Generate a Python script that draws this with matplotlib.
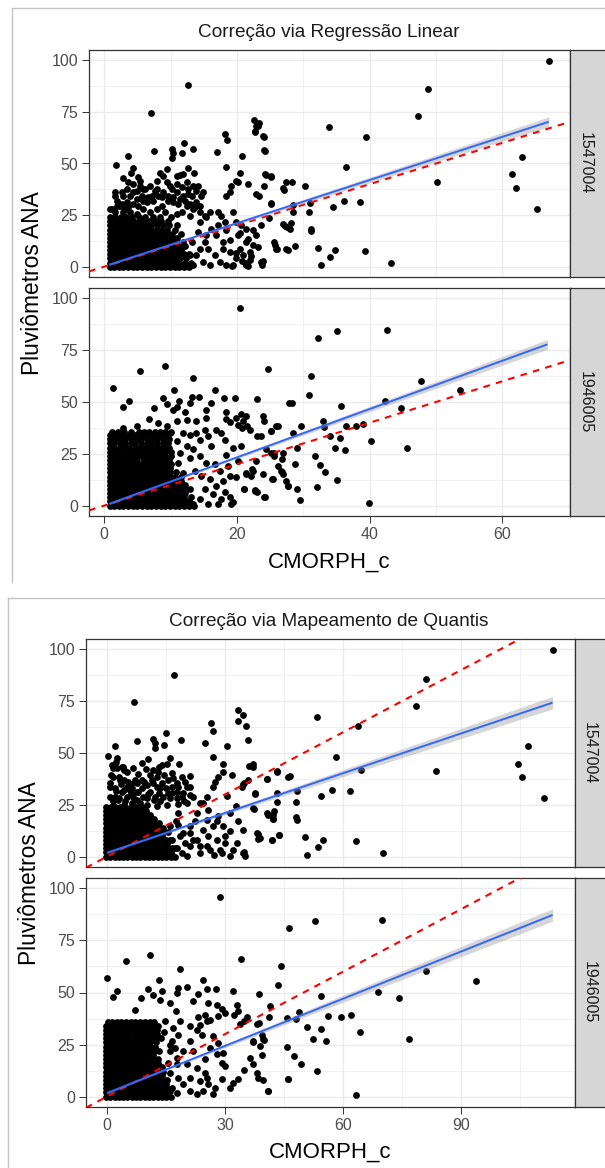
import matplotlib
matplotlib.use("Agg")
import matplotlib.pyplot as plt
from matplotlib.lines import Line2D
import numpy as np

plt.rcParams['font.family'] = ['Liberation Sans', 'DejaVu Sans']

# ---------------------------------------------------------------- data
STATIONS = ["1547004", "1946005"]
TITLE_LR = "Correção via Regressão Linear"
TITLE_QM = "Correção via Mapeamento de Quantis"
XLABEL = "CMORPH_c"
YLABEL = "Pluviômetros ANA"

Y_TICKS = [0, 25, 50, 75, 100]
LR_X_TICKS = [0, 20, 40, 60]
QM_X_TICKS = [0, 30, 60, 90]

# 1:1 reference line
ABLINE_INTERCEPT = 0.0
ABLINE_SLOPE = 1.0

# --- Regressão Linear, station 1547004 -------------------------------
lr_1547004_core_y = [0, 2, 4, 6, 8, 10, 12, 14, 16, 18, 20, 22, 24]
lr_1547004_core_x = [
    [0.8, 1.5, 2.2, 2.9, 3.6, 4.3, 5.0, 5.7, 6.4, 7.1, 7.8, 8.5, 9.2, 9.9, 10.6, 11.3, 12.0, 12.7],
    [0.8, 1.5, 2.2, 2.9, 3.6, 4.3, 5.0, 5.7, 6.4, 7.1, 7.8, 8.5, 9.2, 9.9, 10.6, 11.3, 12.1, 13.0],
    [0.8, 1.5, 2.2, 2.9, 3.6, 4.3, 5.0, 5.7, 6.4, 7.1, 7.8, 8.5, 9.2, 9.9, 10.6, 11.4, 12.3],
    [0.8, 1.5, 2.2, 2.9, 3.6, 4.3, 5.0, 5.7, 6.4, 7.1, 7.8, 8.5, 9.2, 9.9, 10.6, 11.3, 12.0, 12.8],
    [0.8, 1.5, 2.2, 2.9, 3.6, 4.3, 5.0, 5.7, 6.4, 7.1, 7.8, 8.5, 9.2, 9.9, 10.7, 11.6],
    [0.8, 1.5, 2.2, 2.9, 3.6, 4.3, 5.0, 5.7, 6.4, 7.1, 7.8, 8.5, 9.2, 9.9, 10.6, 11.3, 12.2],
    [0.8, 1.5, 2.2, 2.9, 3.6, 4.3, 5.0, 5.7, 6.4, 7.1, 7.8, 8.5, 9.2, 9.9, 10.8, 11.8],
    [0.8, 1.5, 2.2, 2.9, 3.6, 4.3, 5.0, 5.7, 6.4, 7.1, 7.8, 8.5, 9.2, 10.0, 11.0],
    [0.8, 1.5, 2.2, 2.9, 3.6, 4.3, 5.0, 5.7, 6.4, 7.1, 7.8, 8.5, 9.3, 10.2, 11.5],
    [0.8, 1.5, 2.2, 2.9, 3.6, 4.3, 5.0, 5.7, 6.4, 7.1, 7.8, 8.6, 9.5, 10.6],
    [0.8, 1.5, 2.2, 2.9, 3.6, 4.3, 5.0, 5.7, 6.4, 7.1, 7.9, 8.8, 9.8, 11.0],
    [0.8, 1.5, 2.2, 2.9, 3.6, 4.4, 5.2, 6.0, 6.8, 7.6, 8.6, 9.6],
    [0.8, 1.6, 2.5, 3.3, 4.2, 5.2, 6.2, 7.3, 8.4, 10.0],
]
lr_1547004_pts = [
    (12.65, 88), (7.05, 74.4), (22.5, 70.9), (23.2, 68.3), (22.65, 65.6), (23.9, 63.2),
    (18.15, 64.5), (18.5, 61.3), (12, 60), (10.15, 57.1), (10.35, 55.2), (10.25, 52.8),
    (11.75, 55.2), (13.4, 56.8), (7.55, 56), (3.55, 53.6), (17.05, 55.4), (20.8, 53.4),
    (24.1, 56.5), (18.4, 48.5), (1.7, 49.1), (4.4, 48), (2.9, 43.2), (4, 45.6), (5.15, 43.5),
    (8.4, 45.6), (9.4, 47.2), (12.55, 48), (10.9, 44), (11.4, 44.6), (11.9, 44.8), (13.55, 45.3),
    (20.4, 45.3), (24.3, 44.8), (25.15, 44), (20.15, 40.8), (21.65, 40), (19.15, 39.2), (18.9, 36),
    (18.4, 34.4), (19.9, 41.6), (22.9, 35.2), (23.3, 34.4), (24.15, 38.9), (26.9, 37.9),
    (27.4, 41.1), (25.15, 30.9), (25.65, 12), (25.9, 8.8), (27.4, 8.8), (27, 20.8), (27.5, 19.2),
    (24.9, 23.5), (23.65, 2.4), (21.15, 1.6), (3.65, 40.8), (4.4, 40), (5.4, 41.6), (5.9, 37.6),
    (7.65, 36.8), (12.4, 41.1),
    (14.4, 21.6), (15.4, 24), (15.9, 26.4), (17.15, 26.7), (17.65, 24.8), (18.15, 21.6),
    (19.4, 26.4), (19.9, 21.6), (20.65, 20), (21.4, 18.4), (20.15, 15.2), (18.9, 12.8), (17.9, 12),
    (16.9, 15.2), (15.4, 15.2), (14.4, 8.8), (15.65, 8.8), (16.65, 5.6), (17.9, 8.8), (18.9, 7.2),
    (19.9, 4), (20.9, 5.6), (21.9, 7.2), (22.4, 10.4), (22.9, 15.2), (21.4, 12), (19.4, 0.8),
    (21.4, 0.8), (14.9, 2.4), (13.4, 0.8), (13.9, 5.6), (15.15, 12), (16.15, 18.4), (17.15, 20),
    (18.4, 17.6), (14.15, 16.8), (13.15, 12), (12.9, 5.6), (15.9, 0.8), (17.4, 2.4), (18.4, 0.8),
    (20.4, 8.8), (21.9, 3.2),
    (1.65, 36), (2.4, 29.6), (3.4, 31.2), (3.9, 34.4), (4.4, 36), (5.4, 39.2), (6.15, 37.6),
    (4.9, 32.8), (6.4, 31.2), (7.15, 34.4), (7.9, 37.6), (9.4, 40.8), (10.15, 37.6), (10.9, 36),
    (11.9, 34.4), (12.65, 35.2), (13.4, 39.2), (14.15, 39.2), (13.15, 34.4), (13.9, 31.2),
    (12.4, 29.6), (11.15, 30.4), (10.4, 31.2), (8.65, 29.6), (7.9, 28), (5.9, 28), (3.15, 28),
    (1.65, 26.4), (0.9, 28), (3.9, 26.4), (4.9, 25.6), (6.9, 26.4), (9.15, 26.4), (10.9, 25.6),
    (12.9, 24.8), (1.9, 32), (2.9, 34.4), (8.65, 33.6), (9.65, 32), (11.65, 26.4), (13.4, 28),
    (14.4, 29.6), (14.9, 36),
    (1.15, 28), (1.9, 29.6), (2.65, 30.4), (2.9, 26.4), (3.65, 28.8), (4.4, 30.4), (5.15, 29.6),
    (5.9, 32), (6.65, 33.6), (7.4, 32), (8.15, 34.4), (8.9, 36), (9.65, 34.4), (10.4, 33.6),
    (11.4, 32.8), (12.15, 32), (12.9, 30.4), (13.65, 28.8), (14.4, 26.4), (15.15, 24.8),
    (1.65, 34.4), (2.65, 36), (3.4, 37.6), (4.9, 36.8), (5.65, 34.4), (6.9, 39.2), (7.9, 41.6),
    (8.9, 44), (9.9, 39.2), (10.9, 40), (11.65, 38.4), (12.65, 37.6), (13.9, 36.8), (14.65, 34.4),
    (67, 99.7), (48.8, 86), (47.3, 72.8), (33.9, 67.6), (39.4, 63), (36.4, 48.2), (50.1, 41.2),
    (61.5, 44.8), (62.1, 38.3), (63, 53.3), (65.3, 28), (36.1, 32), (34.5, 29.1), (38.6, 31.5),
    (39.3, 7.4), (34.8, 8.2), (34.1, 4.7), (32.6, 0.6), (32.2, 9), (43.2, 1.8), (30.2, 39.1),
    (28.3, 41.2), (27.1, 37.2), (31, 31.1), (30.9, 26.4), (31.1, 18.2), (31.2, 17.1), (28.5, 30),
    (28.4, 26.6), (27.3, 19.8), (28, 18.2), (28.1, 21.4), (28.7, 10.1), (27.7, 7.9), (25.8, 10.6),
    (26, 8.5), (25.1, 30.4), (25.2, 43.6), (24.4, 44.4), (24.2, 56.2), (24.1, 63), (22.9, 68.1),
    (23.3, 69.7), (22.7, 65.4), (23.8, 1), (23.9, 2.6),
    (21.6, 0.4), (22.1, 5.3), (23.2, 9.3), (21.6, 13.3), (20.4, 16.3), (22.4, 17.9), (23.6, 20.3),
    (19.8, 6.6), (20.7, 2.6), (19.2, 0.4),
]
lr_1547004_fit = (0.2, 1.045)          # intercept, slope
lr_1547004_fit_x = (0.75, 67.0)
lr_1547004_band_x = [0.75, 5, 15, 30, 45, 60, 67.0]
lr_1547004_band_hw = [0.5, 0.35, 0.5, 1.0, 1.5, 2.1, 2.4]

# --- Regressão Linear, station 1946005 -------------------------------
lr_1946005_core_y = [0, 2, 4, 6, 8, 10, 12, 14, 16, 18, 20, 22, 24, 26, 28, 30, 32, 34, 35.5]
lr_1946005_core_x = [
    [0.8, 1.5, 2.2, 2.9, 3.6, 4.3, 5.0, 5.7, 6.4, 7.1, 7.8, 8.5, 9.2, 9.9, 10.6, 11.3, 12.0, 12.7, 13.5],
    [0.8, 1.5, 2.2, 2.9, 3.6, 4.3, 5.0, 5.7, 6.4, 7.1, 7.8, 8.5, 9.2, 9.9, 10.6, 11.3, 12.0, 12.8],
    [0.8, 1.5, 2.2, 2.9, 3.6, 4.3, 5.0, 5.7, 6.4, 7.1, 7.8, 8.5, 9.2, 9.9, 10.6, 11.3, 12.0, 13.0],
    [0.8, 1.5, 2.2, 2.9, 3.6, 4.3, 5.0, 5.7, 6.4, 7.1, 7.8, 8.5, 9.2, 9.9, 10.6, 11.3, 12.1],
    [0.8, 1.5, 2.2, 2.9, 3.6, 4.3, 5.0, 5.7, 6.4, 7.1, 7.8, 8.5, 9.2, 9.9, 10.6, 11.3, 12.0, 12.9],
    [0.8, 1.5, 2.2, 2.9, 3.6, 4.3, 5.0, 5.7, 6.4, 7.1, 7.8, 8.5, 9.2, 9.9, 10.6, 11.3, 12.2],
    [0.8, 1.5, 2.2, 2.9, 3.6, 4.3, 5.0, 5.7, 6.4, 7.1, 7.8, 8.5, 9.2, 9.9, 10.6, 11.5],
    [0.8, 1.5, 2.2, 2.9, 3.6, 4.3, 5.0, 5.7, 6.4, 7.1, 7.8, 8.5, 9.2, 9.9, 10.6, 11.6],
    [0.8, 1.5, 2.2, 2.9, 3.6, 4.3, 5.0, 5.7, 6.4, 7.1, 7.8, 8.5, 9.2, 9.9, 10.8],
    [0.8, 1.5, 2.2, 2.9, 3.6, 4.3, 5.0, 5.7, 6.4, 7.1, 7.8, 8.5, 9.2, 9.9],
    [0.8, 1.5, 2.2, 2.9, 3.6, 4.3, 5.0, 5.7, 6.4, 7.1, 7.8, 8.5, 9.2, 10.0],
    [0.8, 1.5, 2.2, 2.9, 3.6, 4.3, 5.0, 6.0, 6.8, 7.5, 8.2, 9.0, 9.8],
    [0.8, 1.5, 2.2, 2.9, 3.6, 4.3, 5.0, 5.7, 6.4, 7.1, 7.8, 8.5, 9.2, 10.0],
    [0.8, 1.5, 2.2, 2.9, 3.8, 4.5, 5.2, 6.2, 6.9, 7.6, 8.4, 9.2, 10.0],
    [0.8, 1.5, 2.2, 3.0, 3.7, 4.6, 5.3, 6.0, 6.8, 7.5, 8.2, 9.0, 9.8],
    [0.8, 1.5, 2.3, 3.2, 4.0, 4.7, 5.5, 6.4, 7.1, 7.9, 8.8, 9.6],
    [0.8, 1.6, 2.4, 3.1, 4.0, 4.8, 5.6, 6.5, 7.3, 8.0, 8.9, 9.8],
    [0.8, 1.4, 2.2, 3.0, 3.8, 4.6, 5.5, 6.2, 7.0, 7.8, 8.6, 9.5],
    [1.2, 2.0, 3.0, 4.0, 5.2, 6.0, 6.8, 7.6, 8.4, 9.2, 10.0],
]
lr_1946005_pts = [
    (20.4, 95.4), (9.15, 67.5), (5.4, 64.9), (24.65, 65.9), (13.4, 61.4), (1.25, 56.9),
    (10.55, 55.8), (16.7, 55.8), (3.75, 50.7), (2.8, 47.8), (8.8, 51.7), (9.5, 49), (11.3, 50.6),
    (11, 47.8), (10.4, 46.2), (13.15, 52.3), (12.9, 49.4), (14.25, 52.3), (7.55, 47.2),
    (15.4, 46.2), (16.15, 49.4), (18, 51.7), (19.7, 51.7), (23.05, 51.4), (6.7, 41.8),
    (12.15, 45), (18.4, 45.1), (18.4, 41.8), (18.9, 40.5), (20.65, 44.3), (21.3, 43.1),
    (19.9, 42.3), (20.15, 39.1), (20.9, 40.7), (21.5, 38.6), (20.8, 37.3), (23.9, 43.4),
    (24.15, 40.7), (22, 36.7), (23, 33.5), (23.65, 33.8), (25.15, 35.9), (25.9, 38.6),
    (27.9, 49.4), (25.15, 25.5), (25.65, 23.9), (26.15, 19.1), (26.65, 16.7), (26.9, 15.2),
    (25.3, 12.8), (22.9, 21.5), (22.3, 17.5), (21.4, 15.2), (22.65, 7.2), (24.15, 4), (21, 8),
    (19.4, 1.6), (19.15, 0.8), (18.15, 6.4), (18.3, 24.2), (27.65, 9.6),
    (11.9, 35.1), (12.9, 34.3), (13.9, 35.1), (14.4, 31.9), (15.15, 36.7), (15.65, 33.5),
    (16.15, 28.7), (16.9, 36.7), (17.65, 35.1), (18.15, 31.9), (12.4, 28.7), (13.4, 27.1),
    (11.4, 25.5), (12.9, 23.1), (14.4, 23.9), (15.4, 20.7), (16.65, 19.9), (17.4, 16.7),
    (18.65, 19.1), (18.9, 14.4), (17.9, 12), (16.9, 9.6), (15.9, 12.8), (14.65, 14.4),
    (13.65, 16.7), (15.15, 8), (16.4, 5.6), (17.65, 3.2), (18.9, 4), (14.4, 3.2), (13.4, 0.8),
    (15.65, 0.8), (17.15, 0.8), (19.9, 13.6), (20.15, 21.5), (19.4, 27.9), (20.65, 28.7),
    (21.4, 15.9), (22.15, 14.4), (23.9, 15.2), (11.15, 20.7), (11.9, 15.9), (10.9, 31.1),
    (9.9, 35.1), (8.15, 39.9), (9.4, 38.3), (10.9, 40.7), (12.4, 41.5), (13.9, 40.7),
    (15.4, 42.3), (4.9, 38.3), (2.9, 37.5), (1.65, 34.8),
    (32.2, 80.7), (35.1, 84.1), (42.6, 84.5), (31.2, 62.5), (47.7, 60.3), (53.6, 55.8),
    (30.9, 53.4), (28.3, 49.5), (42.3, 50.7), (35.7, 48.3), (44.7, 47.2), (45.6, 27.9),
    (40.2, 31.3), (39, 39.4), (37.9, 38.3), (36.4, 38.6), (33, 40.7), (33.1, 38), (34.1, 33.8),
    (35.5, 32.7), (34.8, 27.9), (36.3, 26.8), (31.8, 23.9), (32.5, 19.8), (33.2, 16),
    (35.1, 12.4), (32, 8.8), (39.9, 1.3), (29.5, 2.9), (29.1, 8), (28.7, 20), (29, 27.9),
    (29.7, 38.3), (28.4, 35.1), (26.2, 38.6), (25.2, 35.9), (24.3, 4), (25.5, 12.8), (26.8, 16),
    (27.4, 12), (27.7, 9.6), (26.8, 22.3), (26.9, 25.5), (25.6, 25.2), (24.4, 27.1),
    (22.4, 16.7), (22.7, 7.5), (23, 6.4), (21.1, 8),
]
lr_1946005_fit = (0.0, 1.165)
lr_1946005_fit_x = (0.75, 66.8)
lr_1946005_band_x = [0.75, 5, 15, 30, 45, 60, 66.8]
lr_1946005_band_hw = [0.5, 0.35, 0.5, 1.0, 1.5, 2.1, 2.4]

# --- Mapeamento de Quantis, station 1547004 --------------------------
qm_1547004_core_y = [0, 2, 4, 6, 8, 10, 12, 14, 16, 18, 20, 22, 24]
qm_1547004_core_x = [
    [-0.3, 0.8, 1.9, 3.0, 4.1, 5.2, 6.3, 7.4, 8.5, 9.6, 10.7, 11.8, 12.9, 14.0, 15.1, 16.2, 17.4],
    [-0.3, 0.8, 1.9, 3.0, 4.1, 5.2, 6.3, 7.4, 8.5, 9.6, 10.7, 11.8, 12.9, 14.0, 15.1, 16.3],
    [-0.3, 0.8, 1.9, 3.0, 4.1, 5.2, 6.3, 7.4, 8.5, 9.6, 10.7, 11.8, 12.9, 14.0, 15.1, 16.4, 17.8],
    [-0.3, 0.8, 1.9, 3.0, 4.1, 5.2, 6.3, 7.4, 8.5, 9.6, 10.7, 11.8, 12.9, 14.0, 15.2],
    [-0.3, 0.8, 1.9, 3.0, 4.1, 5.2, 6.3, 7.4, 8.5, 9.6, 10.7, 11.8, 12.9, 14.0, 15.1, 16.5],
    [-0.3, 0.8, 1.9, 3.0, 4.1, 5.2, 6.3, 7.4, 8.5, 9.6, 10.7, 11.8, 12.9, 14.1],
    [-0.3, 0.8, 1.9, 3.0, 4.1, 5.2, 6.3, 7.4, 8.5, 9.6, 10.7, 11.8, 12.9, 14.2, 15.6],
    [-0.3, 0.8, 1.9, 3.0, 4.1, 5.2, 6.3, 7.4, 8.5, 9.6, 10.7, 11.8, 13.0, 14.3],
    [-0.3, 0.8, 1.9, 3.0, 4.1, 5.2, 6.3, 7.4, 8.5, 9.6, 10.7, 11.9, 13.2],
    [-0.3, 0.8, 1.9, 3.0, 4.1, 5.2, 6.3, 7.4, 8.5, 9.6, 10.7, 12.0],
    [-0.3, 0.8, 1.9, 3.0, 4.1, 5.2, 6.3, 7.4, 8.5, 9.6, 10.8],
    [-0.3, 0.8, 1.9, 3.0, 4.1, 5.2, 6.3, 7.4, 8.6, 9.9],
    [-0.3, 0.9, 2.1, 3.3, 4.6, 6.0, 7.4, 9.0],
]
qm_1547004_pts = [
    (17, 87.8), (6.8, 74.4), (33.4, 70.7), (34.7, 68.3), (33.4, 65.4), (35.3, 63), (26.4, 64.3),
    (27, 60.7), (14.9, 59.8), (11.8, 56.7), (12.2, 54.6), (12.2, 52.2), (14.5, 53.8),
    (18.7, 56.3), (24.9, 55), (30.4, 53.4), (35.8, 56.3), (7.7, 55.8), (1.9, 53.4), (0.3, 48.7),
    (2.6, 47.4), (2.3, 45.8), (4, 43.1), (1.6, 42.6), (8.8, 45.4), (10.5, 47), (16, 47.8),
    (14.1, 44.2), (15.2, 44.7), (13.1, 43.4), (11.8, 41.8), (18.2, 44.7), (16.4, 40.5),
    (21.1, 38.9), (19, 38.6), (19.8, 36.2), (17.9, 35.4), (20.4, 33.8), (27, 48.2), (29.6, 44.6),
    (29.6, 41), (28.3, 38.3), (27.5, 36.2), (27, 33.8), (31.9, 39.4), (30.4, 29.3), (34.2, 33.8),
    (34.8, 35.4), (36.2, 43.8), (37.2, 43.4), (35.8, 37), (37.5, 30.3), (37.2, 23.4), (40.8, 21),
    (42.1, 20.2), (42.3, 18.3), (43.1, 41), (46.1, 38.6), (40.6, 37.3), (38.1, 11.4), (38.5, 8.5),
    (41.9, 8.2), (43.7, 10.3), (34.9, 2.1), (33, 6.6), (32.1, 3.4), (34.7, 13), (33.4, 17),
    (31.3, 21), (32.8, 24.5), (25.3, 29), (23.6, 25.8), (24.5, 26.1), (21.1, 29.8), (19, 29),
    (22.8, 21), (25.8, 22.6), (28.3, 19.4), (27, 14.6), (29.6, 14.6), (31.3, 12.2), (27.9, 8.2),
    (30, 6.6), (28.7, 3.4), (31.3, 0.2), (27.2, 1), (25.3, 5), (23.6, 1.8), (21.9, 8.2),
    (21.1, 14.6), (19.4, 11.4), (21.1, 5), (20.3, 0.5), (18.1, 21), (17.5, 17),
    (0.8, 35.4), (2, 29), (3.1, 38.6), (4.2, 37), (5, 33.8), (5.8, 32.2), (3.7, 31.4), (6.7, 29),
    (8, 31.4), (9.2, 29), (8.4, 25.8), (11, 31.4), (12.2, 29), (13.5, 33), (11.8, 35.4),
    (12.6, 38.6), (14.3, 29), (16, 28.2), (15.2, 25), (16.4, 33.8), (17.9, 31.4), (1.6, 24.2),
    (4.2, 25), (6.3, 25.8), (10.1, 25), (12.6, 24.2), (1, 39.4), (4.2, 41.8), (7.1, 37),
    (1.2, 44.2), (2.5, 42.6), (3.7, 43.4), (5, 41), (1.6, 38.6), (3.3, 37), (5.4, 36.2),
    (0.8, 33.8), (2, 33), (4.2, 32.2), (6.3, 33), (7.5, 35.4), (8.8, 37), (10.1, 34.6),
    (11.4, 37), (12.6, 33.8), (13.9, 35.4), (15.6, 37), (16.9, 37.8), (18.1, 33.8), (19.4, 30.6),
    (21.1, 33.8), (21.9, 29), (20.3, 25.8), (17.7, 28.2), (15.6, 30.6), (13.1, 30.6),
    (10.1, 28.2), (7.5, 27.4), (5, 29), (2.9, 27.4), (0.8, 29),
    (1.5, 27), (3, 28.5), (4.5, 27), (6, 30.5), (7.5, 31), (9, 33), (10.5, 30), (12, 27.5),
    (13.5, 27), (15, 33), (16.5, 30.5), (18, 25.5), (19.5, 27), (2.2, 31.5), (3.5, 35), (6, 35),
    (9.5, 36), (11, 39.5), (13, 41), (14.5, 39.5), (8, 40), (6.5, 43), (9.8, 42.5),
    (16, 8.2), (17.3, 4.2), (18.6, 9.8), (19.8, 6.6), (16, 14.6), (18.1, 15.4), (21.1, 11.4),
    (22.8, 8.2), (24.5, 13), (25.8, 9.8), (23.6, 5), (26.2, 3.4), (29.2, 1.8), (22.4, 17),
    (25.3, 17.8), (27.9, 17), (30, 9.8), (16.4, 1), (19, 1.8),
    (113.4, 99.7), (81, 85.9), (78.5, 72.8), (53.4, 67.6), (63.7, 63), (58.2, 48.2), (83.7, 41.3),
    (64.5, 41.8), (104.5, 44.7), (105.5, 38.5), (107, 53.4), (111.2, 28.2), (57.3, 32.1),
    (54.3, 29.3), (61.8, 31.6), (63.4, 7.4), (54.9, 8.2), (53.7, 4.7), (50.9, 0.6), (50.3, 9.3),
    (70.3, 1.8), (46.4, 38.9), (43.1, 41.3), (40.6, 37.4), (48.2, 31.6), (48, 26.6), (48.1, 19.1),
    (48.2, 17.5), (43.1, 30.6), (43.1, 26.4), (41, 20.2), (42.3, 18.1), (42.5, 21.8), (43.7, 10.2),
    (42, 8.2), (38.4, 10.9), (38.8, 9), (37.4, 22.9), (37.6, 30.6), (34.6, 35.1), (37.1, 44.7),
    (34.6, 1.8), (35.1, 0.5),
]
qm_1547004_fit = (1.9, 0.639)
qm_1547004_fit_x = (0.0, 113.3)
qm_1547004_band_x = [0.0, 8, 25, 50, 75, 100, 113.3]
qm_1547004_band_hw = [0.6, 0.4, 0.7, 1.4, 2.1, 2.7, 3.0]

# --- Mapeamento de Quantis, station 1946005 --------------------------
qm_1946005_core_y = [0, 2, 4, 6, 8, 10, 12, 14, 16, 18, 20, 22, 24, 26, 28, 30, 32, 34, 36]
qm_1946005_core_x = [
    [-0.3, 0.8, 1.9, 3.0, 4.1, 5.2, 6.3, 7.4, 8.5, 9.6, 10.7, 11.8, 12.9, 14.0, 15.1, 16.3],
    [-0.3, 0.8, 1.9, 3.0, 4.1, 5.2, 6.3, 7.4, 8.5, 9.6, 10.7, 11.8, 12.9, 14.0, 15.1],
    [-0.3, 0.8, 1.9, 3.0, 4.1, 5.2, 6.3, 7.4, 8.5, 9.6, 10.7, 11.8, 12.9, 14.0, 15.2, 16.5],
    [-0.3, 0.8, 1.9, 3.0, 4.1, 5.2, 6.3, 7.4, 8.5, 9.6, 10.7, 11.8, 12.9, 14.0, 15.1],
    [-0.3, 0.8, 1.9, 3.0, 4.1, 5.2, 6.3, 7.4, 8.5, 9.6, 10.7, 11.8, 12.9, 14.0, 15.3],
    [-0.3, 0.8, 1.9, 3.0, 4.1, 5.2, 6.3, 7.4, 8.5, 9.6, 10.7, 11.8, 12.9, 14.1],
    [-0.3, 0.8, 1.9, 3.0, 4.1, 5.2, 6.3, 7.4, 8.5, 9.6, 10.7, 11.8, 12.9, 14.2],
    [-0.3, 0.8, 1.9, 3.0, 4.1, 5.2, 6.3, 7.4, 8.5, 9.6, 10.7, 11.8, 12.9, 14.0],
    [-0.3, 0.8, 1.9, 3.0, 4.1, 5.2, 6.3, 7.4, 8.5, 9.6, 10.7, 11.8, 12.9],
    [-0.3, 0.8, 1.9, 3.0, 4.1, 5.2, 6.3, 7.4, 8.5, 9.6, 10.7, 11.8, 13.0],
    [-0.3, 0.8, 1.9, 3.0, 4.1, 5.2, 6.3, 7.4, 8.5, 9.6, 10.7, 11.8],
    [-0.3, 0.8, 1.9, 3.0, 4.1, 5.5, 6.5, 7.4, 8.5, 9.6, 10.7, 12.0, 13.2],
    [-0.3, 0.8, 1.9, 3.0, 4.1, 5.2, 6.3, 7.4, 8.5, 9.6, 10.9, 12.2],
    [-0.3, 0.8, 1.9, 3.2, 4.3, 5.4, 6.3, 7.6, 8.7, 9.8, 11.0, 12.4],
    [-0.3, 0.8, 2.0, 3.1, 4.2, 5.6, 6.6, 7.6, 8.8, 10.0, 11.2, 12.5, 13.6],
    [-0.3, 0.8, 1.9, 3.3, 4.4, 5.4, 6.8, 7.9, 9.0, 10.2, 11.4, 12.6],
    [-0.3, 0.9, 2.1, 3.2, 4.5, 5.8, 6.9, 8.0, 9.2, 10.4, 11.6, 12.8],
    [-0.3, 0.8, 2.0, 3.2, 4.3, 5.6, 6.8, 8.1, 9.3, 10.5, 11.8, 13.0],
    [0.2, 1.3, 2.5, 3.6, 4.8, 6.0, 7.2, 8.4, 9.6, 10.8, 12.0],
]
qm_1946005_pts = [
    (28.6, 95.7), (10.9, 67.8), (4.8, 64.9), (18.6, 61.4), (34, 66), (44.2, 62.5), (46.2, 80.9),
    (0.1, 56.9), (13.2, 55.8), (24.3, 55.8), (2.5, 50.6), (1.4, 47.8), (10.5, 51.8), (11.8, 49),
    (13.9, 50.6), (13.5, 46.3), (18.1, 52.2), (17.9, 49.8), (16, 44.8), (20.3, 52.5), (23.2, 49.4),
    (25.3, 51.8), (27.7, 51.8), (8.6, 47.4), (21.9, 45.8), (25.8, 45), (27.9, 44.2), (29.2, 42.3),
    (30, 40.2), (32, 50.9), (38.7, 49.3), (43.6, 53.4), (33, 44.2), (33.4, 41), (32.3, 39.4),
    (34.9, 36.2), (7.1, 41.8), (17.5, 41), (23.2, 38.1), (24.9, 39.4), (26.2, 37), (28.1, 38.6),
    (38.1, 35.1), (39.3, 29.8), (39.9, 27.4), (37.2, 26.3), (38.9, 24.2), (41.4, 43.4),
    (45.7, 37.8), (36.4, 18.7), (37.2, 15.5), (38.1, 11.5), (38.5, 9.1), (34.9, 12.6), (39.7, 7.8),
    (41, 2.7), (46.1, 8.3), (33.4, 8.3), (32, 6.7), (31.3, 4.3), (29.6, 21), (29.2, 16.3),
    (29.2, 8.3), (30, 14.7), (27, 1.1), (27.5, 4.3), (25.8, 5.9), (24.5, 2.7), (22.8, 1.1),
    (27, 29), (28.3, 25.8), (26.2, 23.4), (27.9, 20.3), (24.9, 17.9), (21.1, 33.8), (22.8, 32.2),
    (24.1, 29.8), (21.1, 26.6), (21.9, 21.8), (18.6, 36.2), (16.9, 33), (18.1, 29.8), (16.4, 26.6),
    (17.3, 23.4), (25.3, 36.2), (23.6, 34.6), (20.3, 15.5), (22.8, 13.9), (24.9, 11.5),
    (21.1, 9.1), (23.6, 7.5), (19.4, 5.9), (21.1, 2.7), (17.7, 1.9), (16, 2.7), (18.1, 9.1),
    (16, 11.5), (17.7, 15.5), (15.6, 16.3), (25.3, 9.1), (16, 21.8), (17.7, 18.7), (19.4, 21.8),
    (16, 25), (14.5, 31), (14.8, 36.5),
    (52.8, 84.2), (69.8, 84.7), (81.2, 60.1), (93.9, 55.6), (68.8, 50.4), (54.3, 48.2),
    (74.3, 47.2), (76.7, 27.8), (64.3, 31.1), (62.1, 39.1), (59.4, 38.1), (56.1, 38.6),
    (48.9, 40.5), (48, 37.3), (50.9, 33.6), (54.3, 32.4), (52.5, 27.8), (55.6, 26.6), (45.7, 23.8),
    (47.6, 19.3), (49.2, 15.8), (53.3, 12.4), (46, 8.5), (63.3, 1), (41, 2.9), (39.5, 19.8),
    (39.7, 27.6), (41.3, 38.1), (38.6, 35.3), (35.6, 38.4), (33.7, 34.8), (37.2, 26.5),
]
qm_1946005_fit = (1.7, 0.755)
qm_1946005_fit_x = (0.0, 113.3)
qm_1946005_band_x = [0.0, 8, 25, 50, 75, 100, 113.3]
qm_1946005_band_hw = [0.6, 0.4, 0.7, 1.4, 2.1, 2.7, 3.0]

# ---------------------------------------------------------------- layout
W, H = 605, 1168
fig = plt.figure(figsize=(W / 100, H / 100), dpi=100)
fig.patch.set_facecolor('white')

BORDER = '#333333'
GRID = '#EBEBEB'
TICKLAB = '#4D4D4D'


def axes_px(l, t, r, b):
    return fig.add_axes([l / W, 1 - b / H, (r - l) / W, (b - t) / H])


def draw_panel(rect, core_y, core_x, pts, fit, fit_x, band_x, band_hw,
               xlim, xticks, show_x, strip_right):
    ax = axes_px(*rect)
    ax.set_facecolor('white')
    xs, ys = [], []
    for yv, row in zip(core_y, core_x):
        xs.extend(row)
        ys.extend([yv] * len(row))
    xs.extend([p[0] for p in pts])
    ys.extend([p[1] for p in pts])
    ax.scatter(xs, ys, s=24, c='black', linewidths=0, zorder=2)

    # 1:1 line
    ax.plot(xlim, [ABLINE_INTERCEPT + ABLINE_SLOPE * v for v in xlim], color='red',
            lw=1.5, dashes=(3.2, 3.0), zorder=3)
    # linear fit with confidence band
    a, b = fit
    bx = np.array(band_x)
    by = a + b * bx
    hw = np.array(band_hw)
    ax.fill_between(bx, by - hw, by + hw, color='#999999', alpha=0.4, lw=0, zorder=3.5)
    fx = np.array(fit_x)
    ax.plot(fx, a + b * fx, color='#3366FF', lw=1.4, zorder=4, solid_capstyle='butt')

    step = xticks[1] - xticks[0]
    ax.set_xticks(xticks)
    ax.set_xticks([t + step / 2 for t in [xticks[0] - step] + xticks], minor=True)
    ax.set_yticks(Y_TICKS)
    ax.set_yticks([t + 12.5 for t in Y_TICKS[:-1]], minor=True)
    ax.set_yticklabels([str(t) for t in Y_TICKS])
    ax.set_xlim(*xlim)
    ax.set_ylim(-5, 105)
    ax.grid(True, which='major', color=GRID, lw=1.0, zorder=0)
    ax.grid(True, which='minor', color=GRID, lw=0.5, zorder=0)
    ax.set_axisbelow(True)
    for sp in ax.spines.values():
        sp.set_color(BORDER)
        sp.set_linewidth(0.9)
    ax.tick_params(which='minor', length=0)
    ax.tick_params(axis='y', which='major', length=5, width=0.7, color=BORDER,
                   labelsize=11.5, labelcolor=TICKLAB, pad=3)
    if show_x:
        ax.set_xticklabels([str(t) for t in xticks])
        ax.tick_params(axis='x', which='major', length=5, width=0.7, color=BORDER,
                       labelsize=11.5, labelcolor=TICKLAB, pad=3)
    else:
        ax.tick_params(axis='x', which='major', length=0, labelbottom=False)

    # facet strip
    l, t, r, bb = rect
    sax = axes_px(r, t, strip_right, bb)
    sax.set_facecolor('#D6D6D6')
    sax.set_xticks([])
    sax.set_yticks([])
    for sp in sax.spines.values():
        sp.set_color(BORDER)
        sp.set_linewidth(0.9)
    return ax


# figure frames (two screenshots)
fig.add_artist(Line2D([11.7 / W, 11.7 / W], [1 - 8.3 / H, 1 - 582 / H], color='#C4C4C4', lw=1))
fig.add_artist(Line2D([11.7 / W, 1.0], [1 - 8.3 / H, 1 - 8.3 / H], color='#C4C4C4', lw=1))
fig.add_artist(Line2D([7.7 / W, 7.7 / W], [1 - 597.7 / H, 0.0], color='#C4C4C4', lw=1))
fig.add_artist(Line2D([7.7 / W, 1.0], [1 - 597.7 / H, 1 - 597.7 / H], color='#C4C4C4', lw=1))

LR_XLIM = (-2.3, 70.2)
QM_XLIM = (-5.35, 119.0)

draw_panel((89, 50, 570, 277), lr_1547004_core_y, lr_1547004_core_x, lr_1547004_pts,
           lr_1547004_fit, lr_1547004_fit_x, lr_1547004_band_x, lr_1547004_band_hw,
           LR_XLIM, LR_X_TICKS, False, 640)
draw_panel((89, 288, 570, 516), lr_1946005_core_y, lr_1946005_core_x, lr_1946005_pts,
           lr_1946005_fit, lr_1946005_fit_x, lr_1946005_band_x, lr_1946005_band_hw,
           LR_XLIM, LR_X_TICKS, True, 640)
draw_panel((86, 639, 575, 867), qm_1547004_core_y, qm_1547004_core_x, qm_1547004_pts,
           qm_1547004_fit, qm_1547004_fit_x, qm_1547004_band_x, qm_1547004_band_hw,
           QM_XLIM, QM_X_TICKS, False, 640)
draw_panel((86, 878, 575, 1107), qm_1946005_core_y, qm_1946005_core_x, qm_1946005_pts,
           qm_1946005_fit, qm_1946005_fit_x, qm_1946005_band_x, qm_1946005_band_hw,
           QM_XLIM, QM_X_TICKS, True, 640)

# strip labels
for (xc, yc, lab) in [(585, 163.5, STATIONS[0]), (585, 402, STATIONS[1]),
                      (589, 753, STATIONS[0]), (589, 992.5, STATIONS[1])]:
    fig.text(xc / W, 1 - yc / H, lab, rotation=270, ha='center', va='center',
             fontsize=11.5, color='#1A1A1A')

# titles and axis labels
fig.text(329 / W, 1 - 36.7 / H, TITLE_LR, ha='center', va='baseline', fontsize=13.7, color='#1A1A1A')
fig.text(329 / W, 1 - 625.7 / H, TITLE_QM, ha='center', va='baseline', fontsize=13.7, color='#1A1A1A')
fig.text(33 / W, 1 - 283 / H, YLABEL, rotation=90, ha='center', va='center', fontsize=16.4, color='black')
fig.text(30 / W, 1 - 873 / H, YLABEL, rotation=90, ha='center', va='center', fontsize=16.4, color='black')
fig.text(329.5 / W, 1 - 567.3 / H, XLABEL, ha='center', va='baseline', fontsize=16, color='black')
fig.text(330.5 / W, 1 - 1158 / H, XLABEL, ha='center', va='baseline', fontsize=16, color='black')

fig.savefig('out.png', dpi=100, facecolor='white')
